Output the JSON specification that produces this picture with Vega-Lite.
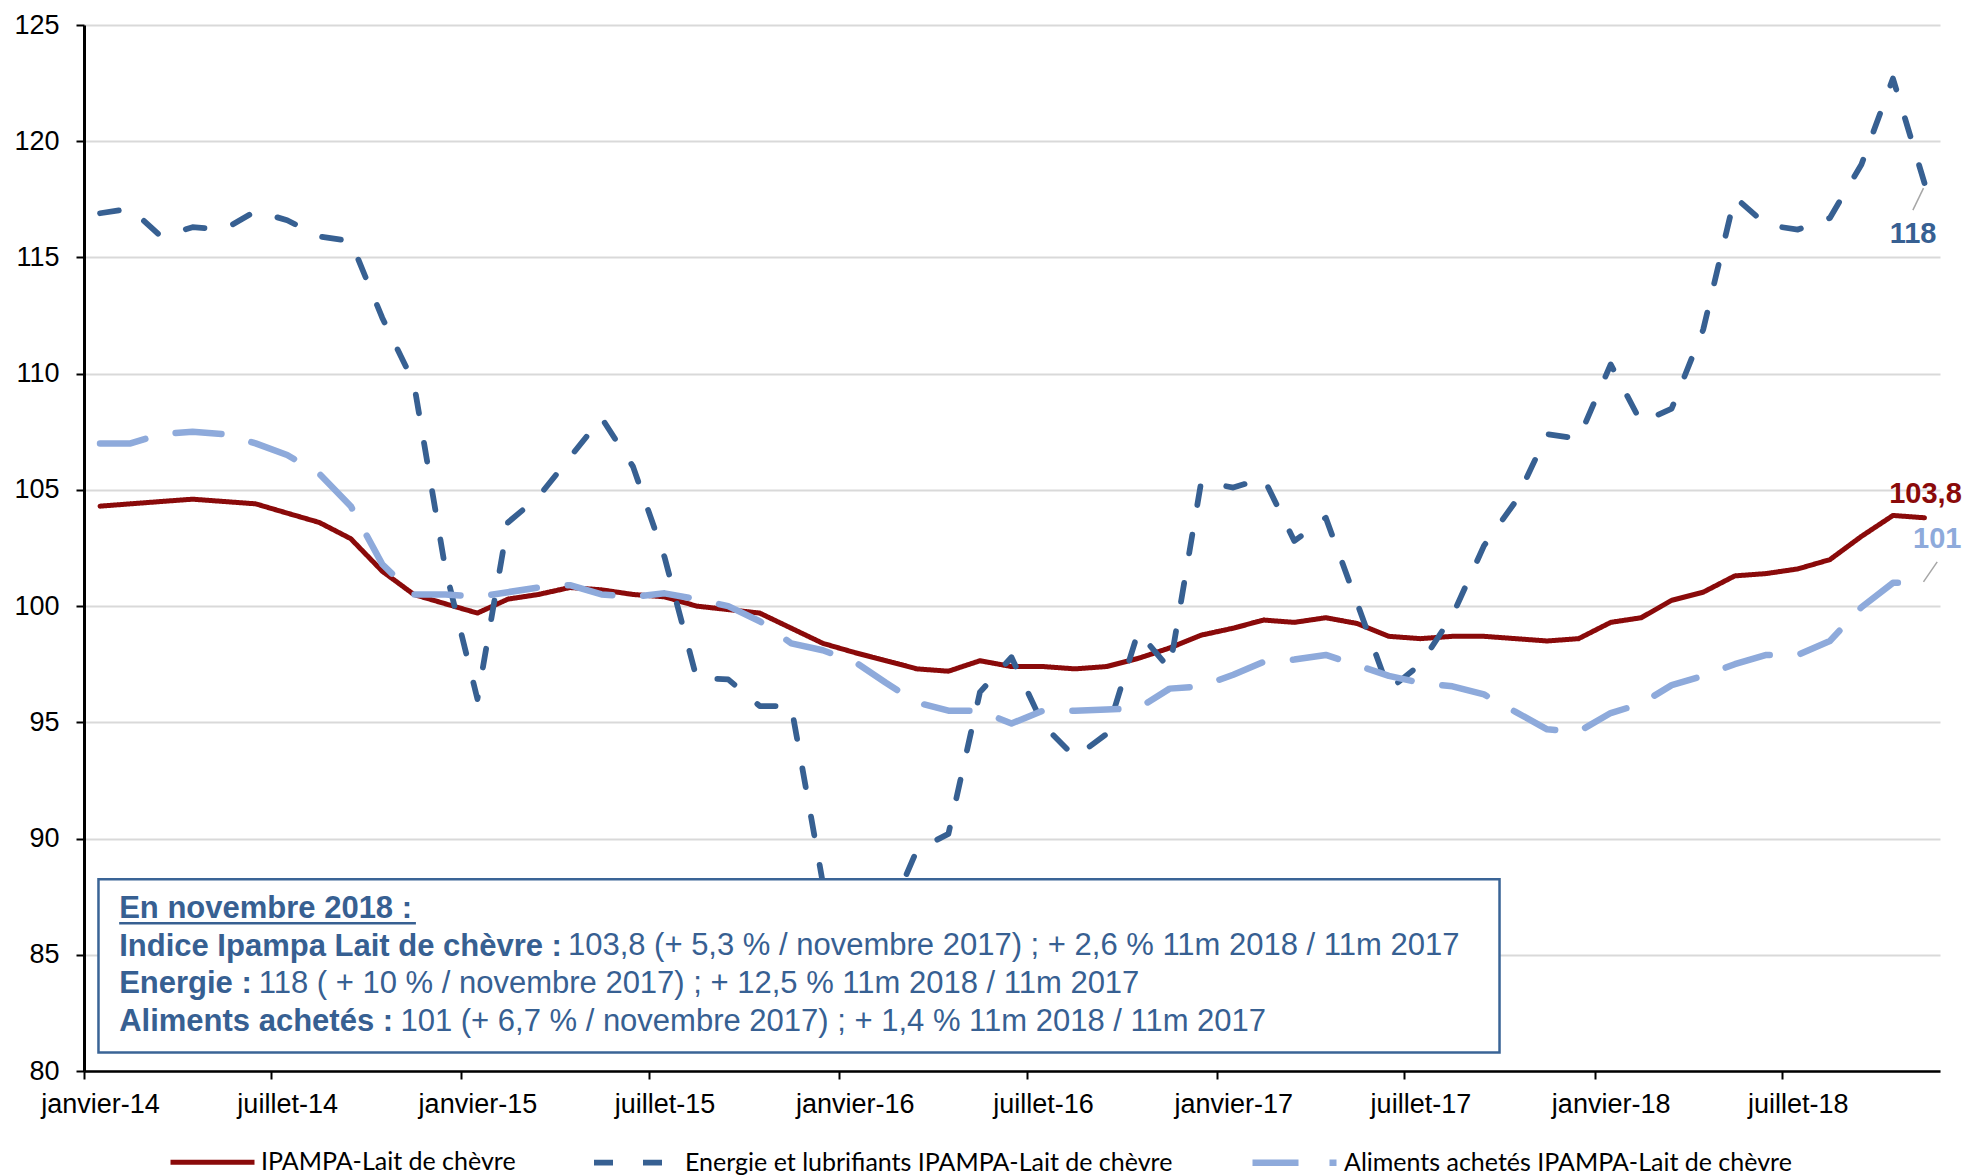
{
  "$schema": "https://vega.github.io/schema/vega-lite/v6.json",
  "width": 1856,
  "height": 1046,
  "autosize": "none",
  "padding": {"left": 84, "top": 25, "right": 30, "bottom": 104},
  "background": "white",
  "config": {
    "view": {"stroke": null},
    "legend": {
      "orient": "none",
      "direction": "horizontal",
      "symbolType": "stroke",
      "symbolSize": 7056,
      "symbolStrokeWidth": 6,
      "labelFont": "Lato",
      "labelFontSize": 25,
      "labelColor": "black",
      "labelOffset": 4,
      "columnPadding": 66,
      "padding": 0,
      "labelLimit": 800
    }
  },
  "datasets": {
    "annotation": [{}]
  },
  "data": {
    "values": [
      {"mois": "2014-01", "ipampa": 104.3, "energie": 116.9, "aliments": 107.0},
      {"mois": "2014-02", "ipampa": 104.4, "energie": 117.1, "aliments": 107.0},
      {"mois": "2014-03", "ipampa": 104.5, "energie": 115.9, "aliments": 107.4},
      {"mois": "2014-04", "ipampa": 104.6, "energie": 116.3, "aliments": 107.5},
      {"mois": "2014-05", "ipampa": 104.5, "energie": 116.2, "aliments": 107.4},
      {"mois": "2014-06", "ipampa": 104.4, "energie": 117.0, "aliments": 107.0},
      {"mois": "2014-07", "ipampa": 104.0, "energie": 116.6, "aliments": 106.5},
      {"mois": "2014-08", "ipampa": 103.6, "energie": 115.9, "aliments": 105.7},
      {"mois": "2014-09", "ipampa": 102.9, "energie": 115.7, "aliments": 104.3},
      {"mois": "2014-10", "ipampa": 101.5, "energie": 112.4, "aliments": 101.8},
      {"mois": "2014-11", "ipampa": 100.5, "energie": 109.6, "aliments": 100.5},
      {"mois": "2014-12", "ipampa": 100.1, "energie": 101.6, "aliments": 100.5},
      {"mois": "2015-01", "ipampa": 99.7, "energie": 96.0, "aliments": 100.4},
      {"mois": "2015-02", "ipampa": 100.3, "energie": 103.6, "aliments": 100.6},
      {"mois": "2015-03", "ipampa": 100.5, "energie": 104.7, "aliments": 100.8},
      {"mois": "2015-04", "ipampa": 100.8, "energie": 106.4, "aliments": 100.9},
      {"mois": "2015-05", "ipampa": 100.7, "energie": 108.1, "aliments": 100.5},
      {"mois": "2015-06", "ipampa": 100.5, "energie": 106.0, "aliments": 100.4},
      {"mois": "2015-07", "ipampa": 100.4, "energie": 102.1, "aliments": 100.55},
      {"mois": "2015-08", "ipampa": 100.0, "energie": 96.9, "aliments": 100.3},
      {"mois": "2015-09", "ipampa": 99.85, "energie": 96.85, "aliments": 100.0},
      {"mois": "2015-10", "ipampa": 99.7, "energie": 95.7, "aliments": 99.35},
      {"mois": "2015-11", "ipampa": 99.05, "energie": 95.7, "aliments": 98.4},
      {"mois": "2015-12", "ipampa": 98.4, "energie": 88.1, "aliments": 98.1},
      {"mois": "2016-01", "ipampa": 98.0, "energie": 86.8, "aliments": 97.6},
      {"mois": "2016-02", "ipampa": 97.65, "energie": 86.4, "aliments": 96.7},
      {"mois": "2016-03", "ipampa": 97.3, "energie": 89.5, "aliments": 95.85},
      {"mois": "2016-04", "ipampa": 97.2, "energie": 90.2, "aliments": 95.5},
      {"mois": "2016-05", "ipampa": 97.65, "energie": 96.3, "aliments": 95.5},
      {"mois": "2016-06", "ipampa": 97.4, "energie": 97.8, "aliments": 94.95},
      {"mois": "2016-07", "ipampa": 97.4, "energie": 94.9, "aliments": 95.5},
      {"mois": "2016-08", "ipampa": 97.3, "energie": 93.5, "aliments": 95.5},
      {"mois": "2016-09", "ipampa": 97.4, "energie": 94.5, "aliments": 95.55},
      {"mois": "2016-10", "ipampa": 97.75, "energie": 98.9, "aliments": 95.6},
      {"mois": "2016-11", "ipampa": 98.2, "energie": 97.3, "aliments": 96.45},
      {"mois": "2016-12", "ipampa": 98.75, "energie": 105.35, "aliments": 96.55},
      {"mois": "2017-01", "ipampa": 99.05, "energie": 105.1, "aliments": 97.05},
      {"mois": "2017-02", "ipampa": 99.4, "energie": 105.5, "aliments": 97.6},
      {"mois": "2017-03", "ipampa": 99.3, "energie": 102.8, "aliments": 97.7},
      {"mois": "2017-04", "ipampa": 99.5, "energie": 103.8, "aliments": 97.9},
      {"mois": "2017-05", "ipampa": 99.25, "energie": 100.1, "aliments": 97.45},
      {"mois": "2017-06", "ipampa": 98.7, "energie": 96.4, "aliments": 97.0},
      {"mois": "2017-07", "ipampa": 98.6, "energie": 97.5, "aliments": 96.7},
      {"mois": "2017-08", "ipampa": 98.7, "energie": 99.6, "aliments": 96.55},
      {"mois": "2017-09", "ipampa": 98.7, "energie": 102.6, "aliments": 96.2},
      {"mois": "2017-10", "ipampa": 98.6, "energie": 104.5, "aliments": 95.45},
      {"mois": "2017-11", "ipampa": 98.5, "energie": 107.4, "aliments": 94.7},
      {"mois": "2017-12", "ipampa": 98.6, "energie": 107.2, "aliments": 94.6},
      {"mois": "2018-01", "ipampa": 99.3, "energie": 110.4, "aliments": 95.4},
      {"mois": "2018-02", "ipampa": 99.5, "energie": 107.9, "aliments": 95.8},
      {"mois": "2018-03", "ipampa": 100.25, "energie": 108.5, "aliments": 96.6},
      {"mois": "2018-04", "ipampa": 100.6, "energie": 111.9, "aliments": 97.0},
      {"mois": "2018-05", "ipampa": 101.3, "energie": 117.6, "aliments": 97.5},
      {"mois": "2018-06", "ipampa": 101.4, "energie": 116.4, "aliments": 97.9},
      {"mois": "2018-07", "ipampa": 101.6, "energie": 116.2, "aliments": 97.9},
      {"mois": "2018-08", "ipampa": 102.0, "energie": 116.7, "aliments": 98.5},
      {"mois": "2018-09", "ipampa": 103.0, "energie": 119.0, "aliments": 99.95},
      {"mois": "2018-10", "ipampa": 103.9, "energie": 122.7, "aliments": 101.0},
      {"mois": "2018-11", "ipampa": 103.8, "energie": 118.2, "aliments": 101.0}
    ]
  },
  "layer": [
    {
      "transform": [{"fold": ["ipampa", "energie", "aliments"], "as": ["serie", "valeur"]}],
      "mark": {"type": "line", "strokeCap": "round", "strokeJoin": "round"},
      "encoding": {
        "x": {
          "field": "mois",
          "type": "temporal",
          "timeUnit": "utcyearmonth",
          "bandPosition": 0.5,
          "scale": {
            "type": "utc",
            "domain": [
              {"year": 2014, "month": 1, "date": 1, "utc": true},
              {"year": 2018, "month": 12, "date": 1, "utc": true}
            ]
          },
          "axis": {
            "values": [
              {"year": 2014, "month": 1, "date": 1, "utc": true},
              {"year": 2014, "month": 7, "date": 1, "utc": true},
              {"year": 2015, "month": 1, "date": 1, "utc": true},
              {"year": 2015, "month": 7, "date": 1, "utc": true},
              {"year": 2016, "month": 1, "date": 1, "utc": true},
              {"year": 2016, "month": 7, "date": 1, "utc": true},
              {"year": 2017, "month": 1, "date": 1, "utc": true},
              {"year": 2017, "month": 7, "date": 1, "utc": true},
              {"year": 2018, "month": 1, "date": 1, "utc": true},
              {"year": 2018, "month": 7, "date": 1, "utc": true}
            ],
            "labelExpr": "(utcmonth(datum.value) == 0 ? 'janvier-' : 'juillet-') + utcFormat(datum.value, '%y')",
            "labelOffset": 16,
            "labelFlush": false,
            "labelOverlap": false,
            "labelBound": false,
            "tickSize": 8,
            "tickWidth": 2,
            "tickColor": "black",
            "domainColor": "black",
            "domainWidth": 2.7,
            "labelFont": "Liberation Sans",
            "labelFontSize": 27,
            "labelColor": "black",
            "labelPadding": 12,
            "grid": false,
            "title": null
          }
        },
        "y": {
          "field": "valeur",
          "type": "quantitative",
          "scale": {"domain": [80, 125], "nice": false, "zero": false},
          "axis": {
            "values": [80, 85, 90, 95, 100, 105, 110, 115, 120, 125],
            "tickSize": 8,
            "tickWidth": 2,
            "tickColor": "black",
            "domainColor": "black",
            "domainWidth": 3,
            "grid": true,
            "gridColor": "#d9d9d9",
            "gridWidth": 2,
            "labelFont": "Liberation Sans",
            "labelFontSize": 27,
            "labelColor": "black",
            "labelPadding": 17,
            "labelFlush": false,
            "labelOverlap": false,
            "title": null
          }
        },
        "color": {
          "field": "serie",
          "type": "nominal",
          "scale": {"domain": ["ipampa", "energie", "aliments"], "range": ["#8a0a0a", "#376092", "#8eaadb"]},
          "legend": {
            "title": null,
            "legendX": 84,
            "legendY": 1092,
            "labelExpr": "datum.label == 'ipampa' ? 'IPAMPA-Lait de chèvre' : datum.label == 'energie' ? 'Energie et lubrifiants IPAMPA-Lait de chèvre' : 'Aliments achetés IPAMPA-Lait de chèvre'"
          }
        },
        "strokeDash": {
          "field": "serie",
          "type": "nominal",
          "scale": {"domain": ["ipampa", "energie", "aliments"], "range": [[1, 0], [19, 30], [46, 31]]},
          "legend": {
            "title": null,
            "legendX": 84,
            "legendY": 1092,
            "labelExpr": "datum.label == 'ipampa' ? 'IPAMPA-Lait de chèvre' : datum.label == 'energie' ? 'Energie et lubrifiants IPAMPA-Lait de chèvre' : 'Aliments achetés IPAMPA-Lait de chèvre'"
          }
        },
        "strokeWidth": {
          "field": "serie",
          "type": "nominal",
          "scale": {"domain": ["ipampa", "energie", "aliments"], "range": [5, 6.5, 6.5]},
          "legend": null
        }
      }
    },
    {
      "data": {"name": "annotation"},
      "mark": {"type": "rect", "fill": "white", "stroke": "#3a6496", "strokeWidth": 2.5},
      "encoding": {
        "x": {"datum": {"year": 2014, "month": 1, "date": 15, "utc": true}, "type": "temporal"},
        "x2": {"datum": {"year": 2017, "month": 10, "date": 1, "utc": true}},
        "y": {"datum": 88.25, "type": "quantitative"},
        "y2": {"datum": 80.8}
      }
    },
    {
      "data": {"name": "annotation"},
      "mark": {"type": "text", "align": "left", "baseline": "alphabetic", "font": "Liberation Sans", "fontWeight": "bold", "fontSize": 31, "color": "#376092", "lineHeight": 37.5},
      "encoding": {
        "x": {"datum": {"year": 2014, "month": 2, "date": 4, "utc": true}, "type": "temporal"},
        "y": {"datum": 86.58, "type": "quantitative"},
        "text": {"value": ["En novembre 2018 :", "Indice Ipampa Lait de chèvre :", "Energie :", "Aliments achetés :"]}
      }
    },
    {
      "data": {"name": "annotation"},
      "mark": {"type": "rule", "color": "#376092", "strokeWidth": 2.5},
      "encoding": {
        "x": {"datum": {"year": 2014, "month": 2, "date": 4, "utc": true}, "type": "temporal"},
        "x2": {"datum": {"year": 2014, "month": 11, "date": 18, "utc": true}},
        "y": {"datum": 86.36, "type": "quantitative"}
      }
    },
    {
      "data": {"name": "annotation"},
      "mark": {"type": "text", "align": "left", "baseline": "alphabetic", "font": "Liberation Sans", "fontSize": 31, "color": "#376092"},
      "encoding": {
        "x": {"datum": {"year": 2015, "month": 4, "date": 14, "utc": true}, "type": "temporal"},
        "y": {"datum": 84.97, "type": "quantitative"},
        "text": {"value": "103,8 (+ 5,3 % / novembre 2017) ; + 2,6 % 11m 2018 / 11m 2017"}
      }
    },
    {
      "data": {"name": "annotation"},
      "mark": {"type": "text", "align": "left", "baseline": "alphabetic", "font": "Liberation Sans", "fontSize": 31, "color": "#376092"},
      "encoding": {
        "x": {"datum": {"year": 2014, "month": 6, "date": 19, "utc": true}, "type": "temporal"},
        "y": {"datum": 83.36, "type": "quantitative"},
        "text": {"value": "118 ( + 10 % / novembre 2017) ; + 12,5 % 11m 2018 / 11m 2017"}
      }
    },
    {
      "data": {"name": "annotation"},
      "mark": {"type": "text", "align": "left", "baseline": "alphabetic", "font": "Liberation Sans", "fontSize": 31, "color": "#376092"},
      "encoding": {
        "x": {"datum": {"year": 2014, "month": 11, "date": 3, "utc": true}, "type": "temporal"},
        "y": {"datum": 81.74, "type": "quantitative"},
        "text": {"value": "101 (+ 6,7 % / novembre 2017) ; + 1,4 % 11m 2018 / 11m 2017"}
      }
    },
    {
      "data": {"name": "annotation"},
      "mark": {"type": "rule", "color": "#a6a6a6", "strokeWidth": 1.5, "xOffset": -1, "yOffset": -1, "x2Offset": 12.7, "y2Offset": -21},
      "encoding": {
        "x": {"datum": {"year": 2018, "month": 11, "date": 16, "utc": true}, "type": "temporal"},
        "x2": {"datum": {"year": 2018, "month": 11, "date": 16, "utc": true}},
        "y": {"datum": 101.0, "type": "quantitative"},
        "y2": {"datum": 101.0}
      }
    },
    {
      "data": {"name": "annotation"},
      "mark": {"type": "rule", "color": "#a6a6a6", "strokeWidth": 1.5, "xOffset": -1, "yOffset": 5, "x2Offset": -11.6, "y2Offset": 27},
      "encoding": {
        "x": {"datum": {"year": 2018, "month": 11, "date": 16, "utc": true}, "type": "temporal"},
        "x2": {"datum": {"year": 2018, "month": 11, "date": 16, "utc": true}},
        "y": {"datum": 118.2, "type": "quantitative"},
        "y2": {"datum": 118.2}
      }
    },
    {
      "data": {"name": "annotation"},
      "mark": {"type": "text", "align": "center", "baseline": "alphabetic", "font": "Liberation Sans", "fontWeight": "bold", "fontSize": 29, "color": "#8a0a0a", "dx": 1, "dy": -14.4},
      "encoding": {
        "x": {"datum": {"year": 2018, "month": 11, "date": 16, "utc": true}, "type": "temporal"},
        "y": {"datum": 103.8, "type": "quantitative"},
        "text": {"value": "103,8"}
      }
    },
    {
      "data": {"name": "annotation"},
      "mark": {"type": "text", "align": "center", "baseline": "alphabetic", "font": "Liberation Sans", "fontWeight": "bold", "fontSize": 29, "color": "#8eaadb", "dx": 12.7, "dy": -34.8},
      "encoding": {
        "x": {"datum": {"year": 2018, "month": 11, "date": 16, "utc": true}, "type": "temporal"},
        "y": {"datum": 101.0, "type": "quantitative"},
        "text": {"value": "101"}
      }
    },
    {
      "data": {"name": "annotation"},
      "mark": {"type": "text", "align": "center", "baseline": "alphabetic", "font": "Liberation Sans", "fontWeight": "bold", "fontSize": 29, "color": "#376092", "dx": -11.4, "dy": 60.3},
      "encoding": {
        "x": {"datum": {"year": 2018, "month": 11, "date": 16, "utc": true}, "type": "temporal"},
        "y": {"datum": 118.2, "type": "quantitative"},
        "text": {"value": "118"}
      }
    }
  ]
}
